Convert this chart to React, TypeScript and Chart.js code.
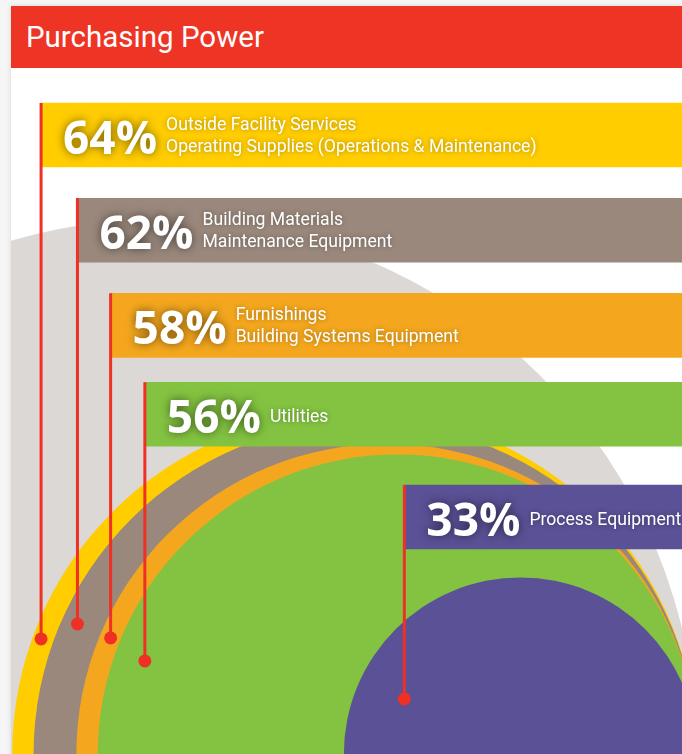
import React, { useEffect, useRef } from 'react';
import { Chart, registerables } from 'chart.js';

Chart.register(...registerables);

// ---- data ----
const TITLE = 'Purchasing Power';
const CATEGORIES: string[][] = [
  ['Outside Facility Services', 'Operating Supplies (Operations & Maintenance)'],
  ['Building Materials', 'Maintenance Equipment'],
  ['Furnishings', 'Building Systems Equipment'],
  ['Utilities'],
  ['Process Equipment'],
];
const PERCENTS = [64, 62, 58, 56, 33];
const TOTAL = 100;

// ---- styles ----
const COLORS = ['#FFCD00', '#9A887C', '#F4A71E', '#83C341', '#5A5196'];
const TOTAL_COLOR = '#DBD8D6';
const RED = '#EE3124';

// ---- layout (chart units: 1 unit = 1 percentage point of radius) ----
const BAR_X = [122.6, 115.8, 109.6, 103.2, 54.7];
const BAR_Y = [115.7, 97.9, 80.1, 63.5, 44.3];
const DOT_Y = [21.5, 24.3, 21.7, 17.4, 10.3];
const BAR_HALF = 6;

const labelPlugin = {
  id: 'barLabels',
  afterDatasetsDraw(chart: any) {
    const { ctx, scales } = chart;
    const xs = scales.x;
    const ys = scales.y;
    ctx.save();
    PERCENTS.forEach((p, i) => {
      const left = xs.getPixelForValue(BAR_X[i]);
      const top = ys.getPixelForValue(BAR_Y[i] + BAR_HALF);
      const txt = p + '%';
      ctx.fillStyle = '#ffffff';
      ctx.textBaseline = 'alphabetic';
      ctx.textAlign = 'left';
      ctx.font = 'bold 46px "Open Sans"';
      ctx.shadowColor = 'rgba(0,0,0,0.55)';
      ctx.shadowBlur = 10;
      const tx = left + 22;
      ctx.fillText(txt, tx, top + 51);
      const w = ctx.measureText(txt).width;
      ctx.font = '17.6px Roboto';
      ctx.shadowColor = 'rgba(0,0,0,0.35)';
      ctx.shadowBlur = 5;
      const lx = tx + w + 9;
      const lines = CATEGORIES[i];
      if (lines.length === 1) {
        ctx.fillText(lines[0], lx, top + 40);
      } else {
        lines.forEach((l, j) => ctx.fillText(l, lx, top + 27 + j * 22));
      }
    });
    ctx.restore();
  },
};

export default function App() {
  const ref = useRef<HTMLCanvasElement>(null);

  useEffect(() => {
    if (!ref.current) return;
    const circleValues = [TOTAL, ...PERCENTS];
    const datasets: any[] = [
      {
        type: 'bubble',
        data: circleValues.map((v) => ({ x: v, y: 0 })),
        backgroundColor: [TOTAL_COLOR, ...COLORS],
        borderWidth: 0,
        hoverRadius: 0,
        order: 3,
      },
      {
        type: 'bar',
        indexAxis: 'y',
        data: BAR_Y.map((y, i) => ({ y, x: [BAR_X[i], 0] })),
        backgroundColor: COLORS,
        borderWidth: 0,
        barThickness: 64,
        order: 2,
      },
      ...PERCENTS.map((_, i) => ({
        type: 'line',
        data: [
          { x: BAR_X[i], y: BAR_Y[i] + BAR_HALF },
          { x: BAR_X[i], y: DOT_Y[i] },
        ],
        borderColor: RED,
        borderWidth: 3,
        pointRadius: [0, 6.5],
        pointBackgroundColor: RED,
        pointBorderWidth: 0,
        fill: false,
        order: 1,
      })),
    ];
    const chart = new Chart(ref.current, {
      type: 'bubble',
      data: { datasets },
      options: {
        animation: false,
        responsive: false,
        events: [],
        layout: { padding: 0, autoPadding: false },
        plugins: { legend: { display: false }, tooltip: { enabled: false } },
        scales: {
          x: { type: 'linear', min: 2.8, max: 128.22, reverse: true, offset: false, display: false },
          y: { type: 'linear', min: 0, max: 128.22, offset: false, display: false },
        },
      } as any,
      plugins: [labelPlugin],
    } as any);
    // bubble radius in pixels = value measured along the x scale
    const xs: any = chart.scales.x;
    chart.data.datasets[0].data.forEach((d: any) => {
      d.r = Math.abs(xs.getPixelForValue(d.x) - xs.getPixelForValue(0));
    });
    chart.update();
    return () => chart.destroy();
  }, []);

  return (
    <div
      style={{
        position: 'fixed',
        left: 0,
        top: 0,
        width: 682,
        height: 754,
        overflow: 'hidden',
        background: '#f5f5f5',
      }}
    >
      <div
        style={{
          position: 'absolute',
          left: 11,
          top: 6,
          width: 720,
          height: 800,
          background: '#ffffff',
          boxShadow: '0 0 5px rgba(0,0,0,0.12)',
        }}
      />
      <div
        style={{
          position: 'absolute',
          left: 11,
          top: 6,
          width: 671,
          height: 62,
          background: '#EE3425',
          color: '#ffffff',
          fontFamily: 'Roboto, sans-serif',
          fontSize: 29.5,
          lineHeight: '62px',
          paddingLeft: 15,
          boxSizing: 'border-box',
          whiteSpace: 'nowrap',
        }}
      >
        {TITLE}
      </div>
      <canvas
        ref={ref}
        width={671}
        height={686}
        style={{ position: 'absolute', left: 11, top: 68, width: 671, height: 686, display: 'block' }}
      />
    </div>
  );
}
